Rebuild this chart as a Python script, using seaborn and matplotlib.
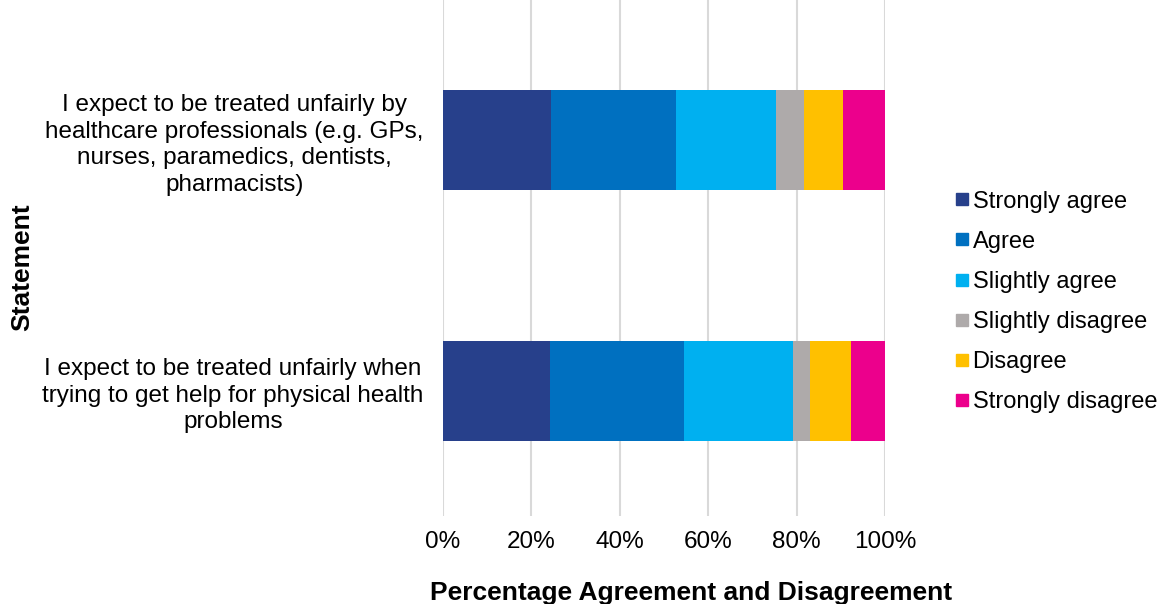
import matplotlib
matplotlib.use("Agg")
import matplotlib.pyplot as plt
from matplotlib.lines import Line2D
import seaborn as sns
import pandas as pd
import numpy as np

statements = [
    "I expect to be treated unfairly by\nhealthcare professionals (e.g. GPs,\nnurses, paramedics, dentists,\npharmacists)",
    "I expect to be treated unfairly when\ntrying to get help for physical health\nproblems",
]
responses = ["Strongly agree", "Agree", "Slightly agree", "Slightly disagree", "Disagree", "Strongly disagree"]
strongly_agree = [24.5, 24.3]
agree = [28.2, 30.3]
slightly_agree = [22.6, 24.5]
slightly_disagree = [6.4, 4.0]
disagree = [8.8, 9.1]
strongly_disagree = [9.5, 7.8]
colors = ["#27408B", "#0070C0", "#00B0F0", "#AEAAAA", "#FFC000", "#EC008C"]
xticks = [0, 20, 40, 60, 80, 100]
xticklabels = ["0%", "20%", "40%", "60%", "80%", "100%"]

series = [strongly_agree, agree, slightly_agree, slightly_disagree, disagree, strongly_disagree]
df = pd.DataFrame({r: v for r, v in zip(responses, series)})
df["Statement"] = statements
cum = df[responses].cumsum(axis=1)
cum["Statement"] = statements

sns.set_style("white")
plt.rcParams["font.family"] = ["Liberation Sans", "DejaVu Sans"]
plt.rcParams["text.color"] = "black"
plt.rcParams["axes.labelcolor"] = "black"
plt.rcParams["xtick.color"] = "black"
plt.rcParams["ytick.color"] = "black"

fig = plt.figure(figsize=(11.61, 6.04), dpi=100)
ax = fig.add_axes([443/1161, (604-516)/604, 442/1161, 516/604])

for r, c in reversed(list(zip(responses, colors))):
    sns.barplot(data=cum, x=r, y="Statement", orient="h", color=c, width=0.4,
                saturation=1, ax=ax, zorder=3, linewidth=0)

ax.set_xlim(0, 100)
ax.set_ylim(1.498, -0.558)
ax.set_xticks(xticks)
ax.set_xticklabels(xticklabels, fontsize=17.5)
ax.tick_params(axis="both", length=0)
ax.tick_params(axis="x", pad=11)
ax.tick_params(axis="y", pad=14)
for lbl in ax.get_yticklabels():
    lbl.set_fontsize(17.5)
    lbl.set_multialignment("center")
    lbl.set_linespacing(1.27)
ax.grid(axis="x", color="#D9D9D9", linewidth=1.5, zorder=0)
ax.grid(axis="y", visible=False)
for s in ax.spines.values():
    s.set_visible(False)

ax.set_xlabel("Percentage Agreement and Disagreement", fontsize=19, fontweight="bold")
ax.xaxis.label.set_va("center")
ax.xaxis.set_label_coords((691-443)/442, (516-593)/516)
ax.set_ylabel("Statement", fontsize=19, fontweight="bold")
ax.yaxis.label.set_va("center")
ax.yaxis.set_label_coords((22-443)/442, (516-267)/516)

handles = [Line2D([0], [0], marker="s", linestyle="none", markersize=8,
                  markerfacecolor=c, markeredgecolor=c) for c in colors]
fig.legend(handles, responses, loc="center left", bbox_to_anchor=(956/1161, 1-302/604),
           frameon=False, fontsize=17, handlelength=0.55, handletextpad=0.15,
           labelspacing=0.77, borderaxespad=0, borderpad=0)

fig.savefig("out.png", dpi=100)
